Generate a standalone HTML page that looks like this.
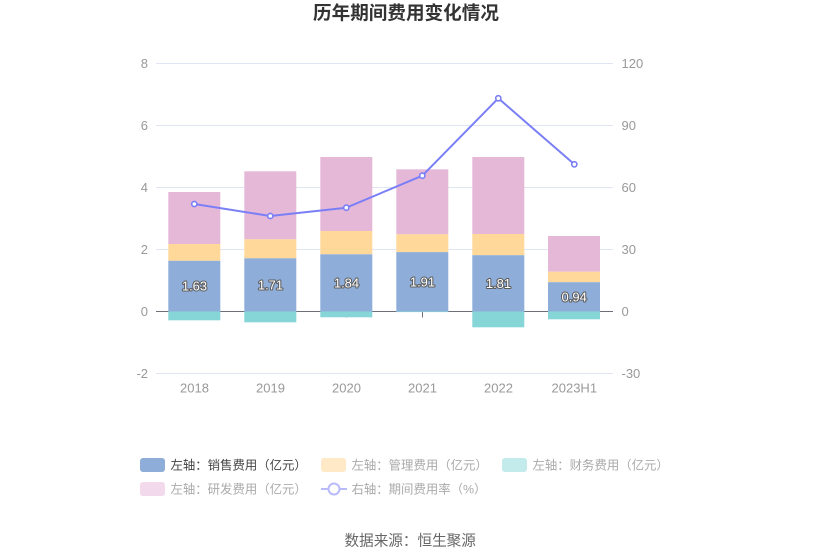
<!DOCTYPE html>
<html>
<head>
<meta charset="utf-8">
<style>
  html,body{margin:0;padding:0;background:#fff;}
  svg{display:block;}
  text{font-family:"Liberation Sans","Noto Sans CJK SC",sans-serif;}
  .cjk{font-family:"Liberation Sans","Noto Sans CJK SC",sans-serif;}
</style>
</head>
<body>
<svg width="823" height="560" viewBox="0 0 823 560" xmlns="http://www.w3.org/2000/svg">
  <rect width="823" height="560" fill="#fff"/>
  <!-- Title -->
  <text x="313" y="19.5" font-size="18.6" font-weight="bold" fill="#333" class="cjk">历年期间费用变化情况</text>

  <!-- Grid lines -->
  <g stroke="#e0e6f1" stroke-width="1">
    <line x1="156" y1="63.5" x2="613" y2="63.5"/>
    <line x1="156" y1="125.5" x2="613" y2="125.5"/>
    <line x1="156" y1="187.5" x2="613" y2="187.5"/>
    <line x1="156" y1="249.5" x2="613" y2="249.5"/>
    <line x1="156" y1="373.5" x2="613" y2="373.5"/>
  </g>
  <!-- zero axis line -->
  <line x1="156" y1="311.5" x2="613" y2="311.5" stroke="#6e7079" stroke-width="1"/>
  <!-- ticks -->
  <g stroke="#6e7079" stroke-width="1">
    <line x1="194.5" y1="311.5" x2="194.5" y2="317.5"/>
    <line x1="270.5" y1="311.5" x2="270.5" y2="317.5"/>
    <line x1="346.5" y1="311.5" x2="346.5" y2="317.5"/>
    <line x1="422.5" y1="311.5" x2="422.5" y2="317.5"/>
    <line x1="498.5" y1="311.5" x2="498.5" y2="317.5"/>
    <line x1="574.5" y1="311.5" x2="574.5" y2="317.5"/>
  </g>

  <!-- Left axis labels -->
  <g font-size="13" fill="#999" text-anchor="end">
    <text x="148" y="68">8</text>
    <text x="148" y="130">6</text>
    <text x="148" y="192">4</text>
    <text x="148" y="254">2</text>
    <text x="148" y="316">0</text>
    <text x="148" y="378">-2</text>
  </g>
  <!-- Right axis labels -->
  <g font-size="13" fill="#999" text-anchor="start">
    <text x="621.5" y="68">120</text>
    <text x="621.5" y="130">90</text>
    <text x="621.5" y="192">60</text>
    <text x="621.5" y="254">30</text>
    <text x="621.5" y="316">0</text>
    <text x="621.5" y="378">-30</text>
  </g>
  <!-- X labels -->
  <g font-size="13" fill="#999" text-anchor="middle">
    <text x="194.5" y="392.4">2018</text>
    <text x="270.5" y="392.4">2019</text>
    <text x="346.5" y="392.4">2020</text>
    <text x="422.5" y="392.4">2021</text>
    <text x="498.5" y="392.4">2022</text>
    <text x="574.3" y="392.4">2023H1</text>
  </g>

  <!-- Bars -->
  <g>
    <rect x="168.3" y="192" width="52" height="52" fill="#e6b8d8"/>
    <rect x="168.3" y="244" width="52" height="16.8" fill="#ffd89a"/>
    <rect x="168.3" y="260.8" width="52" height="50.7" fill="#8eaed9"/>
    <rect x="168.3" y="311.5" width="52" height="8.8" fill="#86d6d7"/>

    <rect x="244.3" y="171.3" width="52" height="68" fill="#e6b8d8"/>
    <rect x="244.3" y="239.3" width="52" height="19" fill="#ffd89a"/>
    <rect x="244.3" y="258.3" width="52" height="53.2" fill="#8eaed9"/>
    <rect x="244.3" y="311.5" width="52" height="10.8" fill="#86d6d7"/>

    <rect x="320.3" y="157" width="52" height="74" fill="#e6b8d8"/>
    <rect x="320.3" y="231" width="52" height="23.3" fill="#ffd89a"/>
    <rect x="320.3" y="254.3" width="52" height="57.2" fill="#8eaed9"/>
    <rect x="320.3" y="311.5" width="52" height="5.8" fill="#86d6d7"/>

    <rect x="396.3" y="169.3" width="52" height="65" fill="#e6b8d8"/>
    <rect x="396.3" y="234.3" width="52" height="17.8" fill="#ffd89a"/>
    <rect x="396.3" y="252.1" width="52" height="59.4" fill="#8eaed9"/>
    <rect x="396.3" y="311.5" width="52" height="0.6" fill="#86d6d7"/>

    <rect x="472.3" y="157" width="52" height="77" fill="#e6b8d8"/>
    <rect x="472.3" y="234" width="52" height="21.2" fill="#ffd89a"/>
    <rect x="472.3" y="255.2" width="52" height="56.3" fill="#8eaed9"/>
    <rect x="472.3" y="311.5" width="52" height="15.8" fill="#86d6d7"/>

    <rect x="548" y="236" width="52" height="35.7" fill="#e6b8d8"/>
    <rect x="548" y="271.7" width="52" height="10.5" fill="#ffd89a"/>
    <rect x="548" y="282.2" width="52" height="29.3" fill="#8eaed9"/>
    <rect x="548" y="311.5" width="52" height="7.8" fill="#86d6d7"/>
  </g>

  <!-- Bar labels -->
  <g font-size="13" fill="#fff" stroke="#5a5a5a" stroke-width="2" paint-order="stroke" stroke-linejoin="round" text-anchor="middle">
    <text x="194.5" y="290.7">1.63</text>
    <text x="270.5" y="289.5">1.71</text>
    <text x="346.5" y="287.5">1.84</text>
    <text x="422.5" y="286.4">1.91</text>
    <text x="498.5" y="287.9">1.81</text>
    <text x="574.2" y="301.4">0.94</text>
  </g>

  <!-- Line series -->
  <polyline points="194.3,204 270.3,216 346.3,207.7 422.3,175.7 498.3,98.3 574.3,164.3" fill="none" stroke="#7b7ff6" stroke-width="2" stroke-linejoin="round"/>
  <g fill="#fff" stroke="#7b7ff6" stroke-width="1.6">
    <circle cx="194.3" cy="204" r="2.6"/>
    <circle cx="270.3" cy="216" r="2.6"/>
    <circle cx="346.3" cy="207.7" r="2.6"/>
    <circle cx="422.3" cy="175.7" r="2.6"/>
    <circle cx="498.3" cy="98.3" r="2.6"/>
    <circle cx="574.3" cy="164.3" r="2.6"/>
  </g>

  <!-- Legend -->
  <g>
    <rect x="140" y="458" width="25" height="14" rx="3" fill="#8eaed9"/>
    <text x="170.5" y="469.6" font-size="12.4" fill="#444" class="cjk">左轴：销售费用（亿元）</text>

    <rect x="321" y="458" width="25" height="14" rx="3" fill="#ffe9c6"/>
    <text x="351.5" y="469.6" font-size="12.4" fill="#aaa" class="cjk">左轴：管理费用（亿元）</text>

    <rect x="502" y="458" width="25" height="14" rx="3" fill="#c3ebeb"/>
    <text x="532.5" y="469.6" font-size="12.4" fill="#aaa" class="cjk">左轴：财务费用（亿元）</text>

    <rect x="140" y="482" width="25" height="14" rx="3" fill="#f2d9eb"/>
    <text x="170.5" y="493.6" font-size="12.4" fill="#aaa" class="cjk">左轴：研发费用（亿元）</text>

    <line x1="321" y1="489" x2="347" y2="489" stroke="#b9bbfa" stroke-width="2"/>
    <circle cx="334" cy="489" r="5.5" fill="#fff" stroke="#b9bbfa" stroke-width="2"/>
    <text x="351.5" y="493.6" font-size="12.4" fill="#aaa" class="cjk">右轴：期间费用率（%）</text>
  </g>

  <!-- Source -->
  <text x="344.5" y="545.4" font-size="14.6" fill="#666" class="cjk">数据来源：恒生聚源</text>
</svg>
</body>
</html>
